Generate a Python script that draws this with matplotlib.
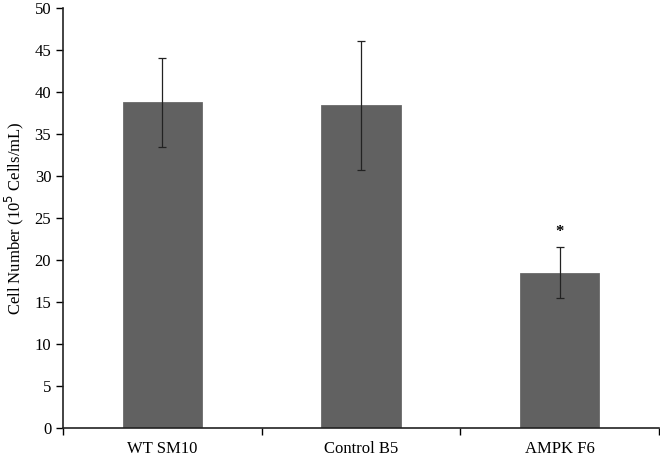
import matplotlib.pyplot as plt
from matplotlib.ticker import FixedLocator

plt.rcParams['font.family'] = ['Liberation Serif', 'DejaVu Serif']

groups = ['WT SM10', 'Control B5', 'AMPK F6']
means = [38.8, 38.4, 18.5]
errors = [5.3, 7.7, 3.0]
yticks = [0, 5, 10, 15, 20, 25, 30, 35, 40, 45, 50]

fig = plt.figure(figsize=(6.6, 4.59), dpi=100)
ax = fig.add_axes([0.0955, 0.0675, 0.9030, 0.915])

pos = [i + 0.5 for i in range(len(groups))]
ax.bar(pos, means, width=0.4, color='#616161', edgecolor='#6a6a6a', linewidth=0.6,
       yerr=errors, error_kw=dict(ecolor='#222222', elinewidth=0.9, capsize=3, capthick=0.9))

# significance mark
ax.text(pos[2], means[2] + errors[2] + 0.9, '*', ha='center', va='bottom',
        fontsize=12, fontweight='bold')

ax.set_xlim(0, len(groups))
ax.set_ylim(0, 50)
ax.set_yticks(yticks)
ax.xaxis.set_major_locator(FixedLocator(range(len(groups) + 1)))
ax.xaxis.set_major_formatter(plt.NullFormatter())
ax.xaxis.set_minor_locator(FixedLocator(pos))
ax.set_xticklabels(groups, minor=True)
ax.tick_params(axis='x', which='minor', length=0, pad=9, labelsize=12)
ax.tick_params(axis='x', which='major', direction='out', length=5, width=1)
ax.tick_params(axis='y', direction='out', length=5, width=1, labelsize=12)

ax.set_ylabel('Cell Number (10$^5$ Cells/mL)', fontsize=12, labelpad=6)

for s in ['top', 'right']:
    ax.spines[s].set_visible(False)
for s in ['left', 'bottom']:
    ax.spines[s].set_linewidth(1.2)
    ax.spines[s].set_color('#222222')

fig.savefig('out.png', dpi=100)
